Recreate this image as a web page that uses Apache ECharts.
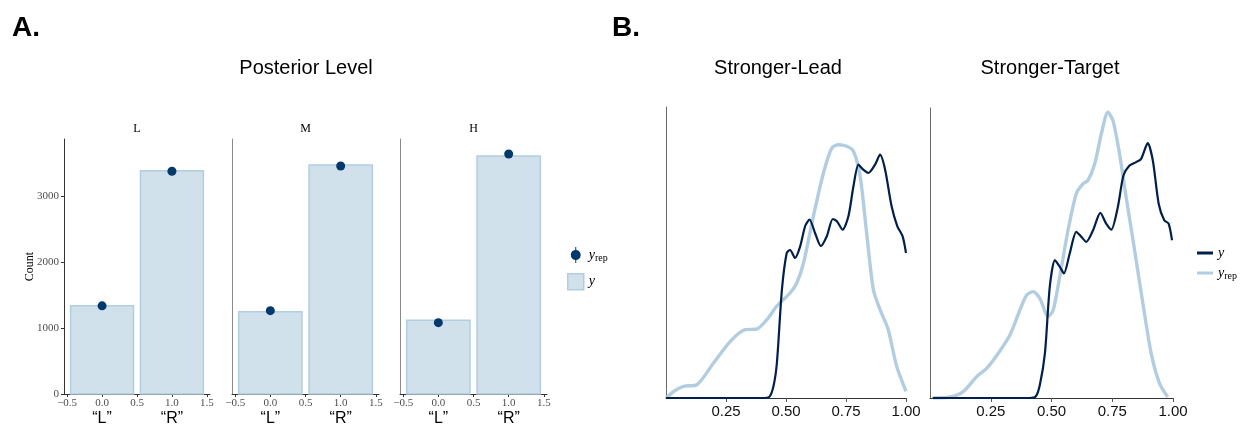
<!DOCTYPE html>
<html>
<head>
<meta charset="utf-8">
<title>Posterior predictive checks</title>
<script src="https://cdn.jsdelivr.net/npm/echarts@6/dist/echarts.min.js"></script>
</head>
<body style="margin:0;background:#fff">
<div id="main" style="width:1248px;height:427px;"></div>
<script>
// ---- panel A: response counts per posterior level ----
var levels = ['L', 'M', 'H'];
var responseLabels = ['“L”', '“R”'];
var responseX = [0, 1];
var yObs = [[1342, 3394], [1251, 3480], [1120, 3617]];
var yRep = [[1340, 3385], [1266, 3465], [1084, 3647]];
var barTicks = [-0.5, 0, 0.5, 1, 1.5];
var countTicks = [0, 1000, 2000, 3000];

// ---- panel B: density overlays, pairs of [x, density] ----
var panelTitles = ['Stronger-Lead', 'Stronger-Target'];
var densTicks = [0.25, 0.5, 0.75, 1];
var leadYrep = [[0, 0], [0.035, 0.07], [0.073, 0.117], [0.129, 0.133], [0.198, 0.35], [0.268, 0.567],
  [0.33, 0.683], [0.379, 0.69], [0.42, 0.783], [0.462, 0.92], [0.517, 1.05], [0.545, 1.15],
  [0.573, 1.35], [0.614, 1.817], [0.656, 2.25], [0.691, 2.5], [0.718, 2.533], [0.753, 2.517],
  [0.781, 2.467], [0.809, 2.217], [0.836, 1.65], [0.864, 1.083], [0.892, 0.883], [0.926, 0.683],
  [0.961, 0.317], [1.0, 0.067]];
var leadY = [[0, 0], [0.4, 0], [0.43, 0.01], [0.448, 0.12], [0.462, 0.35], [0.483, 1.083], [0.503, 1.45],
  [0.517, 1.48], [0.538, 1.4], [0.559, 1.517], [0.58, 1.72], [0.598, 1.785], [0.621, 1.65],
  [0.645, 1.52], [0.67, 1.617], [0.695, 1.79], [0.712, 1.767], [0.736, 1.683], [0.76, 1.817],
  [0.781, 2.117], [0.802, 2.333], [0.822, 2.283], [0.843, 2.25], [0.871, 2.333], [0.892, 2.433],
  [0.913, 2.283], [0.94, 1.917], [0.964, 1.717], [0.986, 1.617], [1.0, 1.45]];
var targetYrep = [[0.011, 0], [0.083, 0.01], [0.138, 0.067], [0.193, 0.217], [0.234, 0.3],
  [0.281, 0.45], [0.329, 0.633], [0.37, 0.883], [0.398, 1.033], [0.425, 1.067], [0.452, 1.0],
  [0.486, 0.817], [0.507, 0.883], [0.534, 1.217], [0.568, 1.683], [0.602, 2.05], [0.63, 2.15],
  [0.65, 2.183], [0.678, 2.35], [0.705, 2.65], [0.732, 2.867], [0.753, 2.783], [0.78, 2.45],
  [0.807, 2.017], [0.842, 1.483], [0.876, 0.95], [0.91, 0.45], [0.944, 0.15], [0.978, 0.01]];
var targetY = [[0.011, 0], [0.41, 0], [0.435, 0.015], [0.452, 0.13], [0.473, 0.45], [0.493, 1.117],
  [0.514, 1.383], [0.534, 1.317], [0.551, 1.25], [0.575, 1.45], [0.602, 1.667], [0.623, 1.617],
  [0.643, 1.567], [0.671, 1.683], [0.701, 1.857], [0.725, 1.75], [0.746, 1.69], [0.773, 1.917],
  [0.796, 2.233], [0.821, 2.333], [0.848, 2.367], [0.869, 2.4], [0.896, 2.557], [0.917, 2.383],
  [0.941, 1.95], [0.964, 1.783], [0.982, 1.75], [0.996, 1.583]];

var light = '#d1e1ec', lightHi = '#b3cde0', dark = '#03396c', darkHi = '#011f4b';
var serif = 'Liberation Serif', sans = 'Liberation Sans';

var myChart = echarts.init(document.getElementById('main'));

// bars are drawn from the axis scale, 0.9 wide like geom_bar
function renderBar(params, api) {
    var x = api.value(0), v = api.value(1);
    var p0 = api.coord([x - 0.45, v]);
    var p1 = api.coord([x + 0.45, 0]);
    return {
        type: 'rect',
        shape: { x: p0[0], y: p0[1], width: p1[0] - p0[0], height: p1[1] - p0[1] },
        style: { fill: light, stroke: lightHi, lineWidth: 1.5 }
    };
}

function fmtTick(v) {
    return v.toFixed(1).replace('-', '\u2212');
}

var gridA = [{ left: 64, w: 146 }, { left: 232, w: 147 }, { left: 400, w: 147 }];
var grids = [], xAxes = [], yAxes = [], series = [], texts = [];

gridA.forEach(function (g, i) {
    grids.push({ left: g.left, top: 139, width: g.w, height: 255, containLabel: false, outerBoundsMode: 'none' });
    xAxes.push({
        type: 'value', gridIndex: i, min: -0.545, max: 1.545,
        axisLine: { onZero: false, lineStyle: { color: '#333', width: 1 } },
        axisTick: { customValues: barTicks, length: 3, lineStyle: { color: '#333' } },
        axisLabel: { customValues: barTicks, formatter: fmtTick, fontFamily: serif, fontSize: 11, color: '#4d4d4d', margin: 4 },
        splitLine: { show: false }
    });
    xAxes.push({
        type: 'value', gridIndex: i, min: -0.545, max: 1.545, position: 'bottom',
        axisLine: { show: false, onZero: false }, axisTick: { show: false },
        axisLabel: {
            customValues: responseX, margin: 17, fontFamily: sans, fontSize: 16, color: '#000',
            formatter: function (v) { return responseLabels[responseX.indexOf(v)]; }
        },
        splitLine: { show: false }
    });
    yAxes.push({
        type: 'value', gridIndex: i, min: 0, max: 3875,
        name: i === 0 ? 'Count' : '', nameLocation: 'middle', nameGap: 28, nameMoveOverlap: false,
        nameTextStyle: { fontFamily: serif, fontSize: 12, color: '#000' },
        axisLine: { show: true, onZero: false, lineStyle: { color: i === 0 ? '#333' : '#8a8a8a', width: 1 } },
        axisTick: { show: i === 0, customValues: countTicks, length: 3, lineStyle: { color: '#333' } },
        axisLabel: {
            show: i === 0, customValues: countTicks, formatter: function (v) { return String(v); },
            fontFamily: serif, fontSize: 11, color: '#4d4d4d', margin: 5
        },
        splitLine: { show: false }
    });
    series.push({
        name: 'y_A', type: 'custom', renderItem: renderBar,
        xAxisIndex: i * 2, yAxisIndex: i, itemStyle: { color: light },
        data: responseX.map(function (x, k) { return [x, yObs[i][k]]; })
    });
    series.push({
        name: 'yrep_A', type: 'scatter', symbolSize: 9,
        xAxisIndex: i * 2, yAxisIndex: i, itemStyle: { color: dark, opacity: 1 }, z: 5,
        data: responseX.map(function (x, k) { return [x, yRep[i][k]]; })
    });
    texts.push({
        type: 'text', x: g.left + g.w / 2, y: 129,
        style: { text: levels[i], fontFamily: serif, fontSize: 12, fill: '#000', textAlign: 'center', textVerticalAlign: 'middle' }
    });
});

var gridB = [{ left: 666, w: 240, top: 107, h: 291, yRep: leadYrep, y: leadY, cx: 778 },
             { left: 930, w: 243, top: 108, h: 290, yRep: targetYrep, y: targetY, cx: 1050 }];
gridB.forEach(function (g, j) {
    var gi = 3 + j;
    grids.push({ left: g.left, top: g.top, width: g.w, height: g.h, containLabel: false, outerBoundsMode: 'none' });
    xAxes.push({
        type: 'value', gridIndex: gi, min: 0, max: 1,
        axisLine: { onZero: false, lineStyle: { color: '#333', width: 1 } },
        axisTick: { customValues: densTicks, length: 4, lineStyle: { color: '#555' } },
        axisLabel: {
            customValues: densTicks, formatter: function (v) { return v.toFixed(2); },
            fontFamily: sans, fontSize: 15, color: '#111', margin: 6
        },
        splitLine: { show: false }
    });
    yAxes.push({
        type: 'value', gridIndex: gi, min: 0, max: 2.91,
        axisLine: { show: true, onZero: false, lineStyle: { color: '#6a6a6a', width: 1 } },
        axisTick: { show: false }, axisLabel: { show: false }, splitLine: { show: false }
    });
    var xi = xAxes.length - 1, yi = yAxes.length - 1;
    series.push({
        name: 'yrep_B', type: 'line', xAxisIndex: xi, yAxisIndex: yi, data: g.yRep,
        smooth: 0.25, showSymbol: false, itemStyle: { color: lightHi },
        lineStyle: { color: lightHi, width: 3.4 }, z: 2
    });
    series.push({
        name: 'y_B', type: 'line', xAxisIndex: xi, yAxisIndex: yi, data: g.y,
        smooth: 0.25, showSymbol: false, itemStyle: { color: darkHi },
        lineStyle: { color: darkHi, width: 2.2 }, z: 3
    });
    texts.push({
        type: 'text', x: g.cx, y: 68,
        style: { text: panelTitles[j], fontFamily: sans, fontSize: 20, fill: '#000', textAlign: 'center', textVerticalAlign: 'middle' }
    });
});

texts.push({ type: 'text', x: 12, y: 28, style: { text: 'A.', fontFamily: sans, fontWeight: 'bold', fontSize: 28, fill: '#000', textVerticalAlign: 'middle' } });
texts.push({ type: 'text', x: 612, y: 28, style: { text: 'B.', fontFamily: sans, fontWeight: 'bold', fontSize: 28, fill: '#000', textVerticalAlign: 'middle' } });
texts.push({ type: 'text', x: 306, y: 68, style: { text: 'Posterior Level', fontFamily: sans, fontSize: 20, fill: '#000', textAlign: 'center', textVerticalAlign: 'middle' } });

var legendRich = {
    y: { fontFamily: serif, fontStyle: 'italic', fontSize: 14, color: '#000' },
    s: { fontFamily: serif, fontSize: 10, color: '#000', padding: [6, 0, 0, 0] }
};
function legendFmt(name) {
    return name.indexOf('yrep') === 0 ? '{y|y}{s|rep}' : '{y|y}';
}
var pointIcon = 'path://M4.5,0L5.5,0L5.5,3.03A5,5 0 0 1 5.5,12.97L5.5,16L4.5,16L4.5,12.97A5,5 0 0 1 4.5,3.03Z';
var lineIcon = 'path://M0,0H16V3H0Z';

var option = {
    backgroundColor: '#fff',
    animation: false,
    grid: grids,
    xAxis: xAxes,
    yAxis: yAxes,
    legend: [{
        left: 567, top: 247, padding: 0, orient: 'vertical', itemWidth: 16, itemHeight: 16, itemGap: 10,
        selectedMode: false, formatter: legendFmt, textStyle: { rich: legendRich },
        data: [
            { name: 'yrep_A', icon: pointIcon, itemStyle: { color: dark } },
            { name: 'y_A', icon: 'rect', itemStyle: { color: light, borderColor: lightHi, borderWidth: 1.5 } }
        ]
    }, {
        left: 1197, top: 246, padding: 0, orient: 'vertical', itemWidth: 16, itemHeight: 14, itemGap: 6,
        selectedMode: false, formatter: legendFmt, textStyle: { rich: legendRich },
        data: [
            { name: 'y_B', icon: lineIcon, itemStyle: { color: darkHi } },
            { name: 'yrep_B', icon: lineIcon, itemStyle: { color: lightHi } }
        ]
    }],
    graphic: texts,
    series: series
};

myChart.setOption(option);
</script>
</body>
</html>
